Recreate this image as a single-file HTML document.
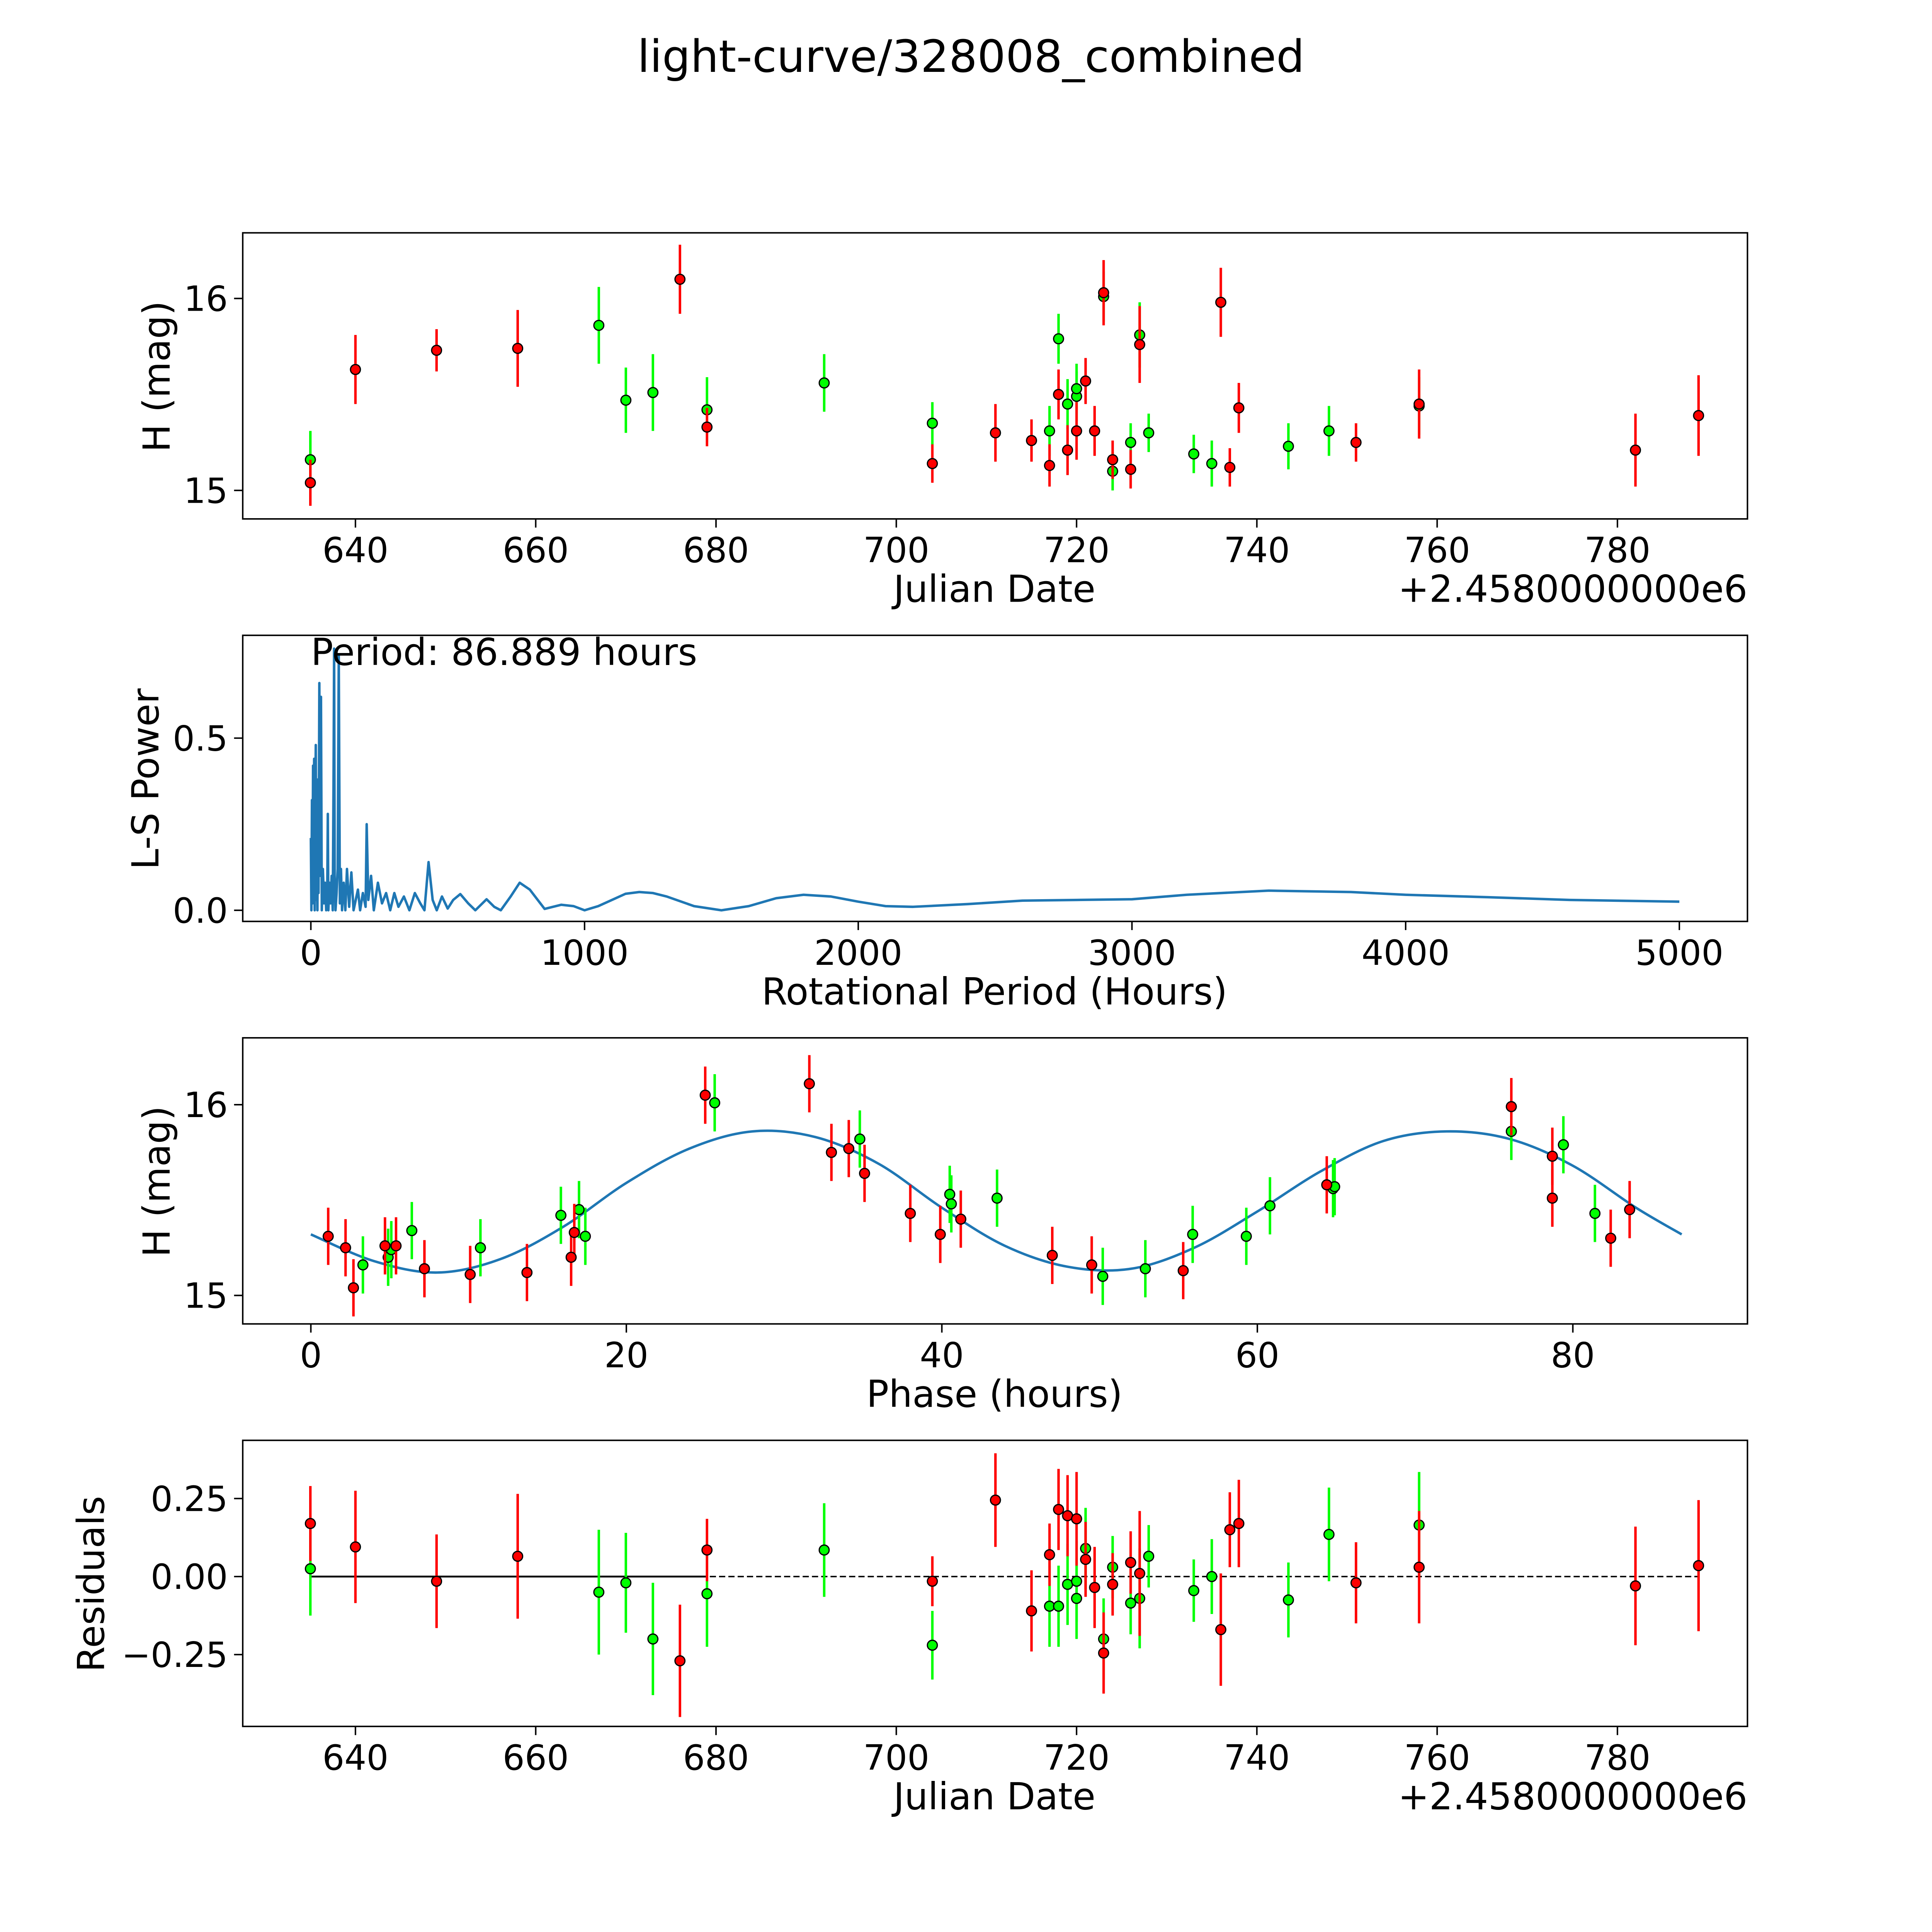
<!DOCTYPE html>
<html><head><meta charset="utf-8">
<style>html,body{margin:0;padding:0;background:#fff;overflow:hidden;width:100%;height:100%}svg{display:block;width:100vw;height:100vh}text{font-family:"DejaVu Sans","Liberation Sans",sans-serif;fill:#000}</style>
</head><body>
<svg id="fig" xmlns="http://www.w3.org/2000/svg" viewBox="0 0 1560 1560" preserveAspectRatio="none">
<rect width="1560" height="1560" fill="#fff"/>
<text x="784" y="58" font-size="36" text-anchor="middle">light-curve/328008_combined</text>
</svg>
<script>
// ---- Data ----
const lcGreenDates=[635,667,670,673,679,692,704,717,718,719,720,720,723,724,726,727,728,733,735,743.5,748,758];
const lcGreenMag=[15.16,15.86,15.47,15.51,15.42,15.56,15.35,15.31,15.79,15.45,15.49,15.53,16.01,15.10,15.25,15.81,15.30,15.19,15.14,15.23,15.31,15.44];
const lcGreenErr=[0.15,0.2,0.17,0.2,0.17,0.15,0.11,0.13,0.13,0.13,0.13,0.13,0.13,0.1,0.1,0.17,0.1,0.1,0.12,0.12,0.13,0.15];
const lcRedDates=[635,640,649,658,676,679,704,711,715,717,718,719,720,721,722,723,724,726,727,736,737,738,751,758,782,789];
const lcRedMag=[15.04,15.63,15.73,15.74,16.10,15.33,15.14,15.30,15.26,15.13,15.50,15.21,15.31,15.57,15.31,16.03,15.16,15.11,15.76,15.98,15.12,15.43,15.25,15.45,15.21,15.39];
const lcRedErr=[0.12,0.18,0.11,0.2,0.18,0.1,0.1,0.15,0.11,0.11,0.13,0.13,0.15,0.12,0.13,0.17,0.1,0.1,0.2,0.18,0.1,0.13,0.1,0.18,0.19,0.21];

const lsPeriods=[0,2,4,6,8,10,12,14,16,18,20,22,24,26,28,31,34,37,40,44,48,52,56,60,62,64,68,72,76,80,83,85,87,90,94,98,102,106,110,114,120,126,132,140,148,156,164,172,180,190,200,204,210,220,230,245,260,275,290,305,320,340,360,380,400,415,430,445,460,479,500,520,546,575,601,642,670,694,730,763,800,854,915,960,1000,1050,1100,1150,1200,1250,1300,1400,1500,1600,1700,1800,1900,2000,2100,2200,2400,2600,2800,3000,3200,3500,3800,4000,4300,4600,5000];
const lsPower=[0.21,0.0,0.32,0.02,0.42,0.05,0.44,0.0,0.30,0.48,0.03,0.15,0.0,0.38,0.05,0.66,0.1,0.62,0.0,0.12,0.02,0.08,0.0,0.06,0.28,0.0,0.08,0.02,0.1,0.0,0.4,0.76,0.1,0.0,0.05,0.12,0.74,0.02,0.12,0.0,0.08,0.0,0.12,0.01,0.11,0.0,0.03,0.06,0.0,0.05,0.01,0.25,0.03,0.1,0.0,0.08,0.02,0.05,0.0,0.05,0.01,0.04,0.0,0.05,0.02,0.0,0.14,0.03,0.0,0.04,0.005,0.03,0.047,0.02,0.0,0.032,0.01,0.0,0.04,0.08,0.06,0.004,0.016,0.012,0.0,0.012,0.03,0.048,0.053,0.05,0.04,0.012,0.0,0.012,0.035,0.045,0.04,0.025,0.012,0.01,0.018,0.028,0.03,0.032,0.045,0.057,0.053,0.045,0.038,0.03,0.025];

const phGreenPh=[3.3,4.9,5.1,6.4,10.75,15.85,17.0,17.4,25.6,34.8,40.5,40.6,43.5,50.2,52.9,55.9,59.3,60.8,64.8,64.9,76.1,79.4,81.4];
const phGreenMag=[15.16,15.2,15.24,15.34,15.25,15.42,15.45,15.31,16.01,15.82,15.53,15.48,15.51,15.1,15.14,15.32,15.31,15.47,15.56,15.57,15.86,15.79,15.43];
const phRedPh=[1.1,2.2,2.7,4.7,5.4,7.2,10.1,13.7,16.5,16.7,25.0,31.6,33.0,34.1,35.1,38.0,39.9,41.2,47.0,49.5,55.3,64.4,76.1,78.7,78.7,82.4,83.6];
const phRedMag=[15.31,15.25,15.04,15.26,15.26,15.14,15.11,15.12,15.2,15.33,16.05,16.11,15.75,15.77,15.64,15.43,15.32,15.4,15.21,15.16,15.13,15.58,15.99,15.73,15.51,15.3,15.45];
const modelPhase=[0,4,8,12,16,20,24,28,32,36,40,44,48,52,56,60,64,68,72,76,80,84,86.9];
const modelMag=[15.32,15.18,15.12,15.19,15.36,15.59,15.77,15.86,15.83,15.69,15.46,15.26,15.15,15.14,15.25,15.44,15.65,15.81,15.86,15.82,15.68,15.46,15.32];

const resGreenDates=[635,667,670,673,679,692,704,717,718,719,720,720,721,723,724,726,727,728,733,735,743.5,748,758];
const resGreenVal=[0.025,-0.05,-0.02,-0.2,-0.055,0.085,-0.22,-0.095,-0.095,-0.025,-0.015,-0.07,0.09,-0.2,0.03,-0.085,-0.07,0.065,-0.045,0,-0.075,0.135,0.165];
const resGreenErr=[0.15,0.2,0.16,0.18,0.17,0.15,0.11,0.13,0.13,0.13,0.13,0.13,0.13,0.13,0.1,0.1,0.16,0.1,0.1,0.12,0.12,0.15,0.17];
const resRedDates=[635,640,649,658,676,679,704,711,715,717,718,719,720,721,722,723,724,726,727,736,737,738,751,758,782,789];
const resRedVal=[0.17,0.095,-0.015,0.065,-0.27,0.085,-0.015,0.245,-0.11,0.07,0.215,0.195,0.185,0.055,-0.035,-0.245,-0.025,0.045,0.01,-0.17,0.15,0.17,-0.02,0.03,-0.03,0.035];
const resRedErr=[0.12,0.18,0.15,0.2,0.18,0.1,0.08,0.15,0.13,0.1,0.13,0.13,0.15,0.12,0.13,0.13,0.1,0.1,0.2,0.18,0.12,0.14,0.13,0.18,0.19,0.21];

const jdTicks=[640,660,680,700,720,740,760,780];
const magTicks=[15,16];
const lsXTicks=[0,1000,2000,3000,4000,5000];
const lsYTicks=[0,0.5];
const lsYLabels=["0.0","0.5"];
const phXTicks=[0,20,40,60,80];
const resYTicks=[-0.25,0,0.25];
const resYLabels=["\u22120.25","0.00","0.25"];

// ---- Drawing ----
const NS="http://www.w3.org/2000/svg";
const svg=document.getElementById('fig');
function mk(tag,attrs,parent){const e=document.createElementNS(NS,tag);for(const k in attrs)e.setAttribute(k,attrs[k]);(parent||svg).appendChild(e);return e;}
const L=196,R=1411;
function lin(d0,d1,p0,p1){return v=>p0+(v-d0)*(p1-p0)/(d1-d0);}

function axesBox(top,bot,name){
  const g=mk('g',{});
  
  
  const r=mk('rect',{x:L,y:top,width:R-L,height:bot-top,fill:'none',stroke:'#000','stroke-width':1.2},g);
  
  
  return g;
}
function xTicks(g,ticks,labels,xf,bot,name){
  ticks.forEach((t,i)=>{const x=xf(t);
    mk('line',{x1:x,x2:x,y1:bot,y2:bot+7,stroke:'#000','stroke-width':1.2},g);
    const tx=mk('text',{x:x,y:bot+35,'font-size':28,'text-anchor':'middle'},g);
    tx.textContent=labels?labels[i]:String(t);
    
    });
}
function yTicks(g,ticks,labels,yf,name){
  ticks.forEach((t,i)=>{const y=yf(t);
    mk('line',{x1:L-7,x2:L,y1:y,y2:y,stroke:'#000','stroke-width':1.2},g);
    const tx=mk('text',{x:L-12,y:y+10,'font-size':28,'text-anchor':'end'},g);
    tx.textContent=labels?labels[i]:String(t);
    
    });
}
function label(g,txt,x,y,rot,name,anchor){
  const t=mk('text',{x:x,y:y,'font-size':30,'text-anchor':anchor||'middle'},g);
  if(rot)t.setAttribute('transform','rotate(-90 '+x+' '+y+')');
  t.textContent=txt;
  
  
}
function points(g,xs,ys,errs,xf,yf,col,name){
  xs.forEach((xv,i)=>{const x=xf(xv);
    if(errs){const e=mk('line',{x1:x,x2:x,y1:yf(ys[i]-errs[i]),y2:yf(ys[i]+errs[i]),stroke:col,'stroke-width':2},g);
      
      }
  });
  xs.forEach((xv,i)=>{const c=mk('circle',{cx:xf(xv),cy:yf(ys[i]),r:4,fill:col,stroke:'#000','stroke-width':1},g);
    
    });
}

// Panel 1
{const g=axesBox(188,419,'light-curve-panel');
 const xf=lin(640,780,287,1306), yf=lin(15,16,396,241);
 xTicks(g,jdTicks,null,xf,419,'x-axis');yTicks(g,magTicks,null,yf,'y-axis');
 points(g,lcGreenDates,lcGreenMag,lcGreenErr,xf,yf,'#00ff00','green-band');
 points(g,lcRedDates,lcRedMag,lcRedErr,xf,yf,'#ff0000','red-band');
 label(g,'Julian Date',803,486,false,'x-axis-title');
 label(g,'+2.4580000000e6',1411,486,false,'x-axis-offset','end');
 label(g,'H (mag)',137,304,true,'y-axis-title');}

// Panel 2
{const g=axesBox(513,744,'periodogram-panel');
 const xf=lin(0,5000,251,1356), yf=lin(0,0.5,735,596);
 xTicks(g,lsXTicks,null,xf,744,'x-axis');yTicks(g,lsYTicks,lsYLabels,yf,'y-axis');
 const p=mk('polyline',{points:lsPeriods.map((v,i)=>xf(v).toFixed(2)+','+yf(lsPower[i]).toFixed(2)).join(' '),fill:'none',stroke:'#1f77b4','stroke-width':2,'stroke-linejoin':'round'},g);
 
 
 const t=mk('text',{x:251,y:537,'font-size':30},g);t.textContent='Period: 86.889 hours';
 
 
 label(g,'Rotational Period (Hours)',803,811,false,'x-axis-title');
 label(g,'L-S Power',128,629,true,'y-axis-title');}

// Panel 3
{const g=axesBox(838,1069,'phase-panel');
 const xf=lin(0,80,251,1270), yf=lin(15,16,1046,892);
 xTicks(g,phXTicks,null,xf,1069,'x-axis');yTicks(g,magTicks,null,yf,'y-axis');
 const pts=modelPhase.map((v,i)=>[xf(v),yf(modelMag[i])]);
 let d='M'+pts[0][0]+','+pts[0][1];
 for(let i=0;i<pts.length-1;i++){const p0=pts[Math.max(0,i-1)],p1=pts[i],p2=pts[i+1],p3=pts[Math.min(pts.length-1,i+2)];
   const c1=[p1[0]+(p2[0]-p0[0])/6,p1[1]+(p2[1]-p0[1])/6],c2=[p2[0]-(p3[0]-p1[0])/6,p2[1]-(p3[1]-p1[1])/6];
   d+=' C'+c1.join(',')+' '+c2.join(',')+' '+p2.join(',');}
 const m=mk('path',{d:d,fill:'none',stroke:'#1f77b4','stroke-width':2},g);
 
 
 points(g,phGreenPh,phGreenMag,phGreenPh.map(()=>0.15),xf,yf,'#00ff00','green-band');
 points(g,phRedPh,phRedMag,phRedPh.map(()=>0.15),xf,yf,'#ff0000','red-band');
 label(g,'Phase (hours)',803,1136,false,'x-axis-title');
 label(g,'H (mag)',137,954,true,'y-axis-title');}

// Panel 4
{const g=axesBox(1163,1394,'residuals-panel');
 const xf=lin(640,780,287,1306), yf=lin(0,0.25,1273,1210);
 xTicks(g,jdTicks,null,xf,1394,'x-axis');yTicks(g,resYTicks,resYLabels,yf,'y-axis');
 const z1=mk('line',{x1:xf(635),x2:xf(789),y1:yf(0),y2:yf(0),stroke:'#000','stroke-width':1.2,'stroke-dasharray':'5,2.5'},g);
 
 
 const z2=mk('line',{x1:xf(635),x2:xf(679),y1:yf(0),y2:yf(0),stroke:'#000','stroke-width':1.5},g);
 
 
 points(g,resGreenDates,resGreenVal,resGreenErr,xf,yf,'#00ff00','green-band');
 points(g,resRedDates,resRedVal,resRedErr,xf,yf,'#ff0000','red-band');
 label(g,'Julian Date',803,1461,false,'x-axis-title');
 label(g,'+2.4580000000e6',1411,1461,false,'x-axis-offset','end');
 label(g,'Residuals',84,1279,true,'y-axis-title');}
</script>
</body></html>
